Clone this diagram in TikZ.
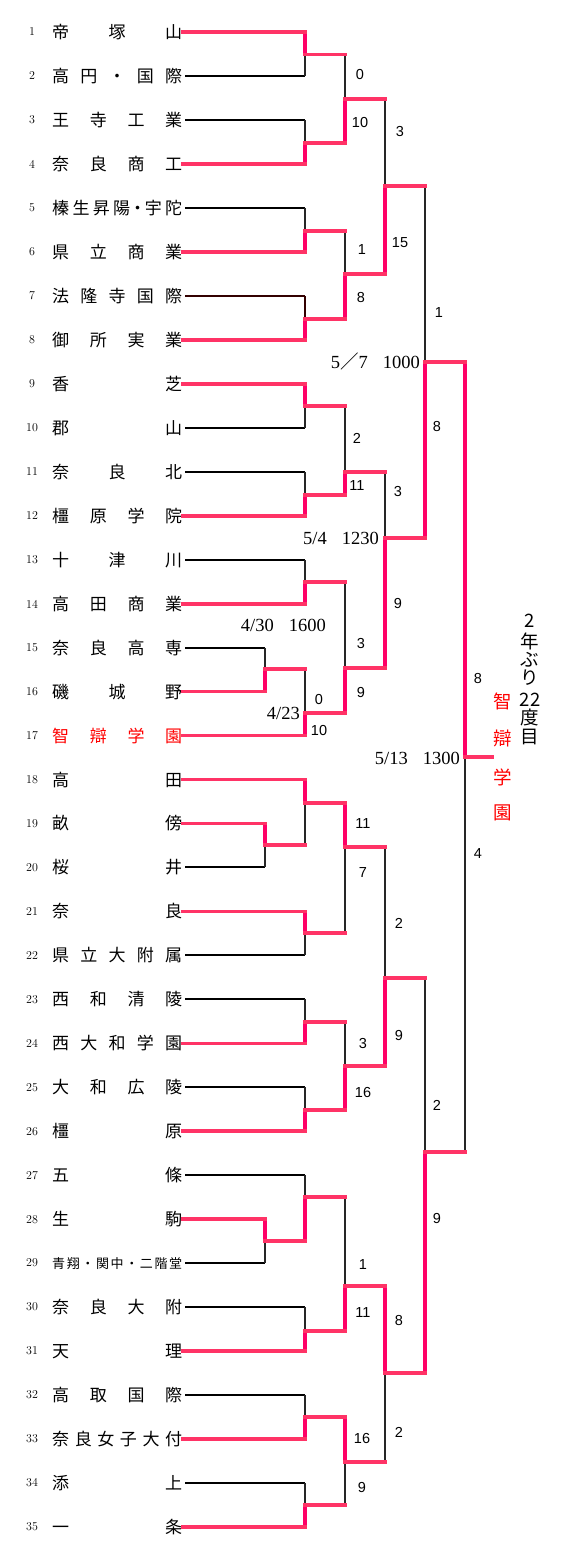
\documentclass[tikz,border=0pt]{standalone}
\usepackage{fontspec}
\newfontfamily\jp{Noto Sans CJK JP}
\newfontfamily\scorefont{Liberation Sans}
\newfontfamily\datefont{Liberation Serif}
\definecolor{redH}{RGB}{255,51,102}
\definecolor{redV}{RGB}{255,0,102}
\definecolor{dk}{RGB}{51,0,0}
\definecolor{winred}{RGB}{255,0,0}
\tikzset{
  rh/.style={draw=redH, line width=3.6pt, line cap=rect},
  rv/.style={draw=redV, line width=3.6pt, line cap=rect},
  bk/.style={draw=black, line width=2.1pt},
  bv/.style={draw=black!85, line width=1.7pt},
  team/.style={anchor=west, inner sep=0pt, text height=15pt, text depth=2pt, font=\jp\fontsize{17}{17}\selectfont},
  smallteam/.style={anchor=west, inner sep=0pt, text height=11.5pt, text depth=1.5pt, font=\jp\fontsize{13}{13}\selectfont},
  num/.style={inner sep=0pt, font=\fontsize{12}{12}\selectfont},
  score/.style={inner sep=0pt, font=\scorefont\fontsize{14.5}{14.5}\selectfont},
  datelbl/.style={anchor=east, inner sep=0pt, font=\datefont\fontsize{18.5}{18.5}\selectfont},
  vchar/.style={inner sep=0pt, font=\jp\fontsize{18.5}{18.5}\selectfont},
}
\newcommand\nm[1]{\makebox[130pt][s]{#1}}
\begin{document}
\begin{tikzpicture}[x=1pt,y=-1pt]
\useasboundingbox (0,0) rectangle (564,1559);
% ---- team numbers
\foreach \i/\y in {1/32,2/76,3/120,4/164,5/208,6/252,7/296,8/340,9/384,10/428,11/472,12/516,13/560,14/604,15/648,16/691.5,17/735.5,18/779.5,19/823.4,20/867.4,21/911.4,22/955.3,23/999.3,24/1043.3,25/1087.3,26/1131.2,27/1175.2,28/1219.2,29/1263.1,30/1307.1,31/1351.1,32/1395,33/1439,34/1483,35/1527}
  \node[num] (n\i) at (32,\y) {\i};
% ---- team names
\node[team] (t1) at (52,32) {\nm{帝\hfill 塚\hfill 山}};
\node[team] (t2) at (52,76) {\nm{高\hfill 円\hfill ・\hfill 国\hfill 際}};
\node[team] (t3) at (52,120) {\nm{王\hfill 寺\hfill 工\hfill 業}};
\node[team] (t4) at (52,164) {\nm{奈\hfill 良\hfill 商\hfill 工}};
\node[team] (t5) at (52,208) {\nm{榛\hfill 生\hfill 昇\hfill 陽\hfill \makebox[8pt]{・}\hfill 宇\hfill 陀}};
\node[team] (t6) at (52,252) {\nm{県\hfill 立\hfill 商\hfill 業}};
\node[team] (t7) at (52,296) {\nm{法\hfill 隆\hfill 寺\hfill 国\hfill 際}};
\node[team] (t8) at (52,340) {\nm{御\hfill 所\hfill 実\hfill 業}};
\node[team] (t9) at (52,384) {\nm{香\hfill 芝}};
\node[team] (t10) at (52,428) {\nm{郡\hfill 山}};
\node[team] (t11) at (52,472) {\nm{奈\hfill 良\hfill 北}};
\node[team] (t12) at (52,516) {\nm{橿\hfill 原\hfill 学\hfill 院}};
\node[team] (t13) at (52,560) {\nm{十\hfill 津\hfill 川}};
\node[team] (t14) at (52,604) {\nm{高\hfill 田\hfill 商\hfill 業}};
\node[team] (t15) at (52,648) {\nm{奈\hfill 良\hfill 高\hfill 専}};
\node[team] (t16) at (52,691.5) {\nm{磯\hfill 城\hfill 野}};
\node[team, text=winred] (t17) at (52,735.5) {\nm{智\hfill 辯\hfill 学\hfill 園}};
\node[team] (t18) at (52,779.5) {\nm{高\hfill 田}};
\node[team] (t19) at (52,823.4) {\nm{畝\hfill 傍}};
\node[team] (t20) at (52,867.4) {\nm{桜\hfill 井}};
\node[team] (t21) at (52,911.4) {\nm{奈\hfill 良}};
\node[team] (t22) at (52,955.3) {\nm{県\hfill 立\hfill 大\hfill 附\hfill 属}};
\node[team] (t23) at (52,999.3) {\nm{西\hfill 和\hfill 清\hfill 陵}};
\node[team] (t24) at (52,1043.3) {\nm{西\hfill 大\hfill 和\hfill 学\hfill 園}};
\node[team] (t25) at (52,1087.3) {\nm{大\hfill 和\hfill 広\hfill 陵}};
\node[team] (t26) at (52,1131.2) {\nm{橿\hfill 原}};
\node[team] (t27) at (52,1175.2) {\nm{五\hfill 條}};
\node[team] (t28) at (52,1219.2) {\nm{生\hfill 駒}};
\node[smallteam] (t29) at (52,1263.1) {\nm{青\hfill 翔\hfill ・\hfill 関\hfill 中\hfill ・\hfill 二\hfill 階\hfill 堂}};
\node[team] (t30) at (52,1307.1) {\nm{奈\hfill 良\hfill 大\hfill 附}};
\node[team] (t31) at (52,1351.1) {\nm{天\hfill 理}};
\node[team] (t32) at (52,1395) {\nm{高\hfill 取\hfill 国\hfill 際}};
\node[team] (t33) at (52,1439) {\nm{奈\hfill 良\hfill 女\hfill 子\hfill 大\hfill 付}};
\node[team] (t34) at (52,1483) {\nm{添\hfill 上}};
\node[team] (t35) at (52,1527) {\nm{一\hfill 条}};
% ---- match points
\coordinate (p1) at (265,669);
\coordinate (p2) at (265,845);
\coordinate (p3) at (265,1241);
\coordinate (a1) at (305,54.5);
\coordinate (a2) at (305,143);
\coordinate (a3) at (305,231);
\coordinate (a4) at (305,319);
\coordinate (a5) at (305,406);
\coordinate (a6) at (305,495);
\coordinate (a7) at (305,582);
\coordinate (a8) at (305,713);
\coordinate (a9) at (305,803);
\coordinate (a10) at (305,933);
\coordinate (a11) at (305,1022);
\coordinate (a12) at (305,1110);
\coordinate (a13) at (305,1197);
\coordinate (a14) at (305,1331);
\coordinate (a15) at (305,1417);
\coordinate (a16) at (305,1505);
\coordinate (b1) at (345,99);
\coordinate (b2) at (345,274);
\coordinate (b3) at (345,472);
\coordinate (b4) at (345,668);
\coordinate (b5) at (345,847);
\coordinate (b6) at (345,1066);
\coordinate (b7) at (345,1286);
\coordinate (b8) at (345,1462);
\coordinate (c1) at (385,186);
\coordinate (c2) at (385,538);
\coordinate (c3) at (385,978);
\coordinate (c4) at (385,1373);
\coordinate (d1) at (425,362);
\coordinate (d2) at (425,1152);
\coordinate (f) at (465,757);
\coordinate (w) at (492,757);
% ---- losing team lines (black)
\foreach \t/\m in {2/a1,3/a2,5/a3,10/a5,11/a6,13/a7,15/p1,20/p2,22/a10,23/a11,25/a12,27/a13,29/p3,30/a14,32/a15,34/a16}
  \draw[bk] ([xshift=3pt]t\t.east) -- (t\t.east -| \m);
\draw[bk, draw=dk] ([xshift=3pt]t7.east) -- (t7.east -| a4);
% ---- losing verticals (black)
\foreach \m/\s in {p1/t15,p2/t20,p3/t29,a1/t2,a2/t3,a3/t5,a5/t10,a6/t11,a7/t13,a8/p1,a9/p2,a10/t22,a11/t23,a12/t25,a13/t27,a14/t30,a15/t32,a16/t34,b1/a1,b2/a3,b3/a5,b4/a7,b5/a10,b6/a11,b7/a13,b8/a16,c1/b1,c2/b3,c3/b5,c4/b8,d1/c1,d2/c3,f/d2}
  \draw[bv] (\m) -- (\m |- \s);
\draw[bv, draw=dk] (a4) -- (a4 |- t7);
% ---- winning verticals (red)
\foreach \m/\s in {p1/t16,p2/t19,p3/t28,a1/t1,a2/t4,a3/t6,a4/t8,a5/t9,a6/t12,a7/t14,a8/t17,a9/t18,a10/t21,a11/t24,a12/t26,a13/p3,a14/t31,a15/t33,a16/t35,b1/a2,b2/a4,b3/a6,b4/a8,b5/a9,b6/a12,b7/a14,b8/a15,c1/b2,c2/b4,c3/b6,c4/b7,d1/c2,d2/c4,f/d1}
  \draw[rv] (\m) -- (\m |- \s);
% ---- winning team lines (red)
\foreach \t/\m in {1/a1,4/a2,6/a3,8/a4,9/a5,12/a6,14/a7,16/p1,17/a8,18/a9,19/p2,21/a10,24/a11,26/a12,28/p3,31/a14,33/a15,35/a16}
  \draw[rh] (t\t.east) -- (t\t.east -| \m);
% ---- outputs (red)
\foreach \m/\n in {p1/a8,p2/a9,p3/a13,a1/b1,a2/b1,a3/b2,a4/b2,a5/b3,a6/b3,a7/b4,a8/b4,a9/b5,a10/b5,a11/b6,a12/b6,a13/b7,a14/b7,a15/b8,a16/b8,b1/c1,b2/c1,b3/c2,b4/c2,b5/c3,b6/c3,b7/c4,b8/c4,c1/d1,c2/d1,c3/d2,c4/d2,d1/f,d2/f}
  \draw[rh] (\m) -- (\m -| \n);
\draw[rh] (f) -- (w);
% ---- scores
\node[score] (s1) at (360,75) {0};
\node[score] (s2) at (360,123) {10};
\node[score] (s3) at (362,250) {1};
\node[score] (s4) at (361,298) {8};
\node[score] (s5) at (357,438) {2};
\node[score] (s6) at (357,486) {11};
\node[score] (s7) at (361,643) {3};
\node[score] (s8) at (361,692) {9};
\node[score] (s9) at (319,699) {0};
\node[score] (s10) at (319,730) {10};
\node[score] (s11) at (363,823) {11};
\node[score] (s12) at (363,872) {7};
\node[score] (s13) at (363,1043) {3};
\node[score] (s14) at (363,1092) {16};
\node[score] (s15) at (363,1264) {1};
\node[score] (s16) at (363,1312) {11};
\node[score] (s17) at (362,1438) {16};
\node[score] (s18) at (362,1487) {9};
\node[score] (s19) at (400,132) {3};
\node[score] (s20) at (400,243) {15};
\node[score] (s21) at (398,491) {3};
\node[score] (s22) at (398,603) {9};
\node[score] (s23) at (399,923) {2};
\node[score] (s24) at (399,1035) {9};
\node[score] (s25) at (399,1320) {8};
\node[score] (s26) at (399,1432) {2};
\node[score] (s27) at (439,313) {1};
\node[score] (s28) at (437,427) {8};
\node[score] (s29) at (437,1105) {2};
\node[score] (s30) at (437,1218) {9};
\node[score] (s31) at (478,678) {8};
\node[score] (s32) at (478,853) {4};
% ---- dates
\node[datelbl] (dt1) at (420,361) {5{\jp ／}7\hspace{15pt}1000};
\node[datelbl] (dt2) at (379,538) {5/4\hspace{15pt}1230};
\node[datelbl] (dt3) at (326,625) {4/30\hspace{15pt}1600};
\node[datelbl] (dt4) at (300,713) {4/23};
\node[datelbl] (dt5) at (460,758) {5/13\hspace{15pt}1300};
% ---- champion
\node[vchar, text=winred] (v1) at (503,701) {智};
\node[vchar, text=winred] (v2) at (503,738) {辯};
\node[vchar, text=winred] (v3) at (503,777) {学};
\node[vchar, text=winred] (v4) at (503,813) {園};
\node[vchar] (u1) at (530,621) {2};
\node[vchar] (u2) at (530,641) {年};
\node[vchar] (u3) at (530,660) {ぶ};
\node[vchar] (u4) at (530,678) {り};
\node[vchar] (u5) at (530,700) {22};
\node[vchar] (u6) at (530,717) {度};
\node[vchar] (u7) at (530,737) {目};
\end{tikzpicture}
\end{document}
